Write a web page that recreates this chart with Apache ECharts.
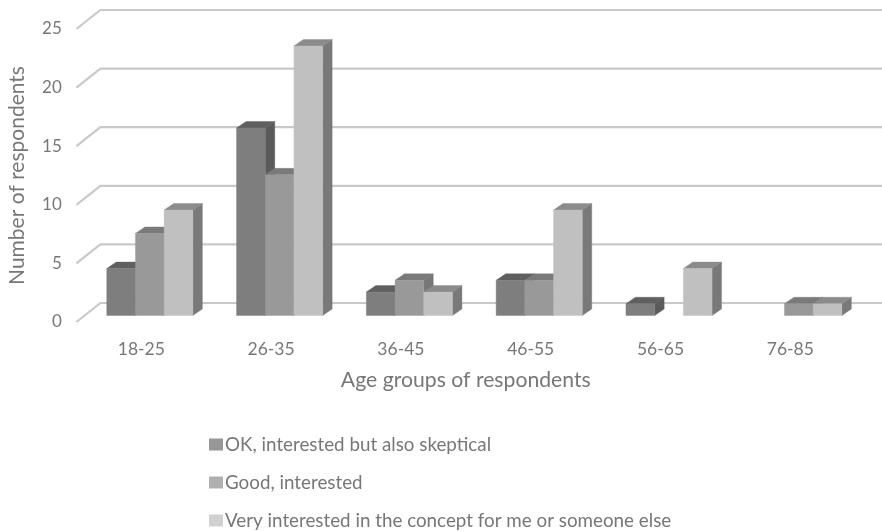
<!DOCTYPE html>
<html>
<head>
<meta charset="utf-8">
<style>html,body{margin:0;padding:0;background:#fff}#chart{width:882px;height:532px}</style>
<script src="https://cdn.jsdelivr.net/npm/echarts@6/dist/echarts.min.js"></script>
</head>
<body>
<div id="chart"></div>
<script>
// Survey responses by age group
const ageGroups = ['18-25', '26-35', '36-45', '46-55', '56-65', '76-85'];
const okSkeptical = [4, 16, 2, 3, 1, 0];
const goodInterested = [7, 12, 3, 3, 0, 1];
const veryInterested = [9, 23, 2, 9, 4, 1];
const gridValues = [0, 5, 10, 15, 20, 25];

const seriesNames = [
  'OK, interested but also skeptical',
  'Good, interested',
  'Very interested in the concept for me or someone else'
];

// Shades for each series: front, top and side faces, then the legend swatch
const shades = [
  { front: '#7e7e7e', top: '#5f5f5f', side: '#5a5a5a', key: '#979797' },
  { front: '#999999', top: '#7a7a7a', side: '#777777', key: '#b0b0b0' },
  { front: '#c0c0c0', top: '#8b8b8b', side: '#797979', key: '#d0d0d0' }
];

const textColor = '#777777';
const fontFamily = 'Lato, "Open Sans", sans-serif';

// Pseudo-3D depth settings
const barWidth = 28.7;
const barDepth = [9.5, -6.5];
const planeShift = [8.5, -6.5];   // bars sit slightly behind the axis plane
const wallShift = [24, -19];      // gridlines run along the back wall

function poly(points, fill) {
  return { type: 'polygon', shape: { points }, style: { fill, stroke: fill, lineWidth: 0.4 } };
}

function barRenderer(seriesIndex) {
  const shade = shades[seriesIndex];
  return function (params, api) {
    const value = api.value(1);
    if (!value) return null;
    const top = api.coord([api.value(0), value]);
    const base = api.coord([api.value(0), 0]);
    const centre = top[0] + planeShift[0];
    const x0 = centre + (seriesIndex - 1.5) * barWidth;
    const x1 = centre + (seriesIndex - 0.5) * barWidth;
    const yT = top[1] + planeShift[1];
    const yB = base[1] + planeShift[1];
    const dx = barDepth[0], dy = barDepth[1];
    return {
      type: 'group',
      children: [
        poly([[x1, yT], [x1 + dx, yT + dy], [x1 + dx, yB + dy], [x1, yB]], shade.side),
        poly([[x0, yT], [x0 + dx, yT + dy], [x1 + dx, yT + dy], [x1, yT]], shade.top),
        poly([[x0, yT], [x1, yT], [x1, yB], [x0, yB]], shade.front)
      ]
    };
  };
}

function wallRenderer(params, api) {
  const y = api.coord([0, api.value(1)])[1];
  const rect = params.coordSys;
  return {
    type: 'polyline',
    shape: {
      points: [
        [rect.x, y],
        [rect.x + wallShift[0], y + wallShift[1]],
        [rect.x + rect.width + wallShift[0] + 3, y + wallShift[1]]
      ]
    },
    style: { stroke: '#c9c9c9', lineWidth: 2.2, fill: null }
  };
}

const chart = echarts.init(document.getElementById('chart'), null, { renderer: 'canvas' });
const valueSets = [okSkeptical, goodInterested, veryInterested];

chart.setOption({
  animation: false,
  backgroundColor: '#ffffff',
  textStyle: { fontFamily },
  grid: { left: 76.4, right: 26.8, top: 29, bottom: 210, containLabel: false, outerBoundsMode: 'none' },
  legend: {
    orient: 'vertical',
    left: 204,
    top: 430,
    height: 102,
    padding: [5, 0, 0, 5],
    itemWidth: 14,
    itemHeight: 12,
    itemGap: 19,
    selectedMode: false,
    icon: 'rect',
    textStyle: { color: textColor, fontSize: 18.8, fontFamily, padding: [0, 0, 0, -3] },
    data: seriesNames.map((name, i) => ({ name, itemStyle: { color: shades[i].key } }))
  },
  xAxis: {
    type: 'category',
    data: ageGroups,
    axisLine: { show: false },
    axisTick: { show: false },
    splitLine: { show: false },
    axisLabel: { color: textColor, fontSize: 17.5, margin: 18 },
    name: 'Age groups of respondents',
    nameLocation: 'middle',
    nameGap: 48,
    nameTextStyle: { color: textColor, fontSize: 21.2 }
  },
  yAxis: {
    type: 'value',
    min: 0,
    max: 25,
    interval: 5,
    axisLine: { show: false },
    axisTick: { show: false },
    splitLine: { show: false },
    axisLabel: { color: textColor, fontSize: 17, margin: 14.6 },
    name: 'Number of respondents',
    nameLocation: 'middle',
    nameGap: 48.5,
    nameTextStyle: { color: textColor, fontSize: 21 }
  },
  series: [
    {
      type: 'custom',
      name: 'wall',
      silent: true,
      clip: false,
      z: 1,
      renderItem: wallRenderer,
      data: gridValues.map(v => [0, v])
    }
  ].concat(valueSets.map((values, i) => ({
    type: 'custom',
    name: seriesNames[i],
    clip: false,
    z: 2 + i,
    itemStyle: { color: shades[i].key },
    renderItem: barRenderer(i),
    encode: { x: 0, y: 1 },
    data: values.map((v, c) => [c, v])
  })))
});
</script>
</body>
</html>
